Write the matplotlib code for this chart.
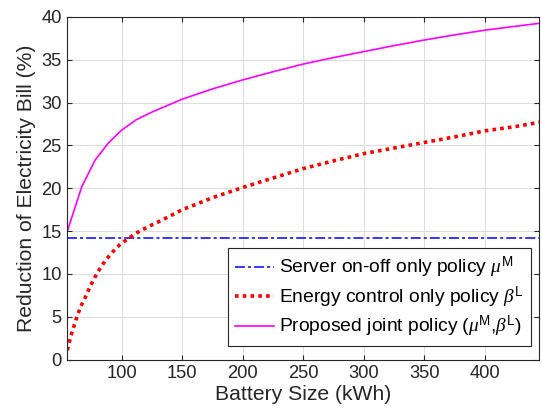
import matplotlib
matplotlib.use('Agg')
import matplotlib.pyplot as plt

plt.rcParams['font.family'] = ['Liberation Sans', 'DejaVu Sans']
plt.rcParams['mathtext.fontset'] = 'custom'
plt.rcParams['mathtext.rm'] = 'Liberation Sans'
plt.rcParams['mathtext.it'] = 'Liberation Serif:italic'

# Battery sizes (kWh) and bill reduction (%)
battery_server = [55, 445]
server_only = [14.25, 14.25]

battery_energy = [55, 58, 60, 62, 66, 69, 74, 77, 80, 87, 91, 95, 100, 105,
                  110, 116, 126, 132, 150, 175, 200, 225, 250, 275, 300, 325,
                  350, 375, 400, 425, 445]
energy_only = [1.1, 2.8, 3.7, 4.6, 6.2, 7.0, 8.6, 9.4, 10.2, 11.7, 12.3, 13.0,
               13.6, 14.1, 14.6, 15.1, 15.8, 16.2, 17.5, 18.9, 20.1, 21.2,
               22.3, 23.2, 24.05, 24.7, 25.35, 26.0, 26.7, 27.2, 27.7]

battery_joint = [55, 67, 78, 89, 100, 112, 125, 150, 175, 200, 225, 250, 275,
                 300, 325, 350, 375, 400, 425, 445]
joint = [15.0, 20.2, 23.3, 25.3, 26.8, 28.0, 28.9, 30.4, 31.6, 32.65, 33.6,
         34.5, 35.25, 35.95, 36.65, 37.3, 37.9, 38.45, 38.9, 39.25]

labels = ['Server on-off only policy $\\mu^{\\mathrm{M}}$',
          'Energy control only policy $\\beta^{\\mathrm{L}}$',
          'Proposed joint policy ($\\mu^{\\mathrm{M}}$,$\\beta^{\\mathrm{L}}$)']

dark = '#262626'

fig = plt.figure(figsize=(5.42, 4.12), dpi=100)
ax = fig.add_axes([0.1242, 0.127, 0.8709, 0.832])

ax.plot(battery_server, server_only, color='#0000ff', lw=1.1,
        dashes=(6.5, 2.0, 2.0, 2.0), label=labels[0])
ax.plot(battery_energy, energy_only, color='#ff0000', lw=2.6,
        dashes=(1.0, 1.15), label=labels[1])
ax.plot(battery_joint, joint, color='#ff00ff', lw=1.2, label=labels[2])

ax.set_xlim(55, 445)
ax.set_ylim(0, 40)
ax.set_xticks([100, 150, 200, 250, 300, 350, 400])
ax.set_yticks(range(0, 41, 5))
ax.grid(True, color='#dcdcdc', lw=0.7)
ax.set_axisbelow(True)

for s in ax.spines.values():
    s.set_color(dark)
    s.set_linewidth(0.8)
ax.tick_params(direction='in', top=True, right=True, length=3.5, width=0.8,
               color=dark, labelcolor=dark, labelsize=13.2, pad=4)

ax.set_xlabel('Battery Size (kWh)', fontsize=15.2, color=dark, labelpad=2)
ax.set_ylabel('Reduction of Electricity Bill (%)', fontsize=15.2, color=dark,
              labelpad=4)

leg = ax.legend(loc='lower right', bbox_to_anchor=(0.982, 0.04),
                borderaxespad=0, fontsize=13.9, fancybox=False, framealpha=1,
                edgecolor=dark, handlelength=2.0, handletextpad=0.3,
                labelspacing=0.22, borderpad=0.35)
leg.get_frame().set_linewidth(0.8)

fig.savefig('out.png', dpi=100)
